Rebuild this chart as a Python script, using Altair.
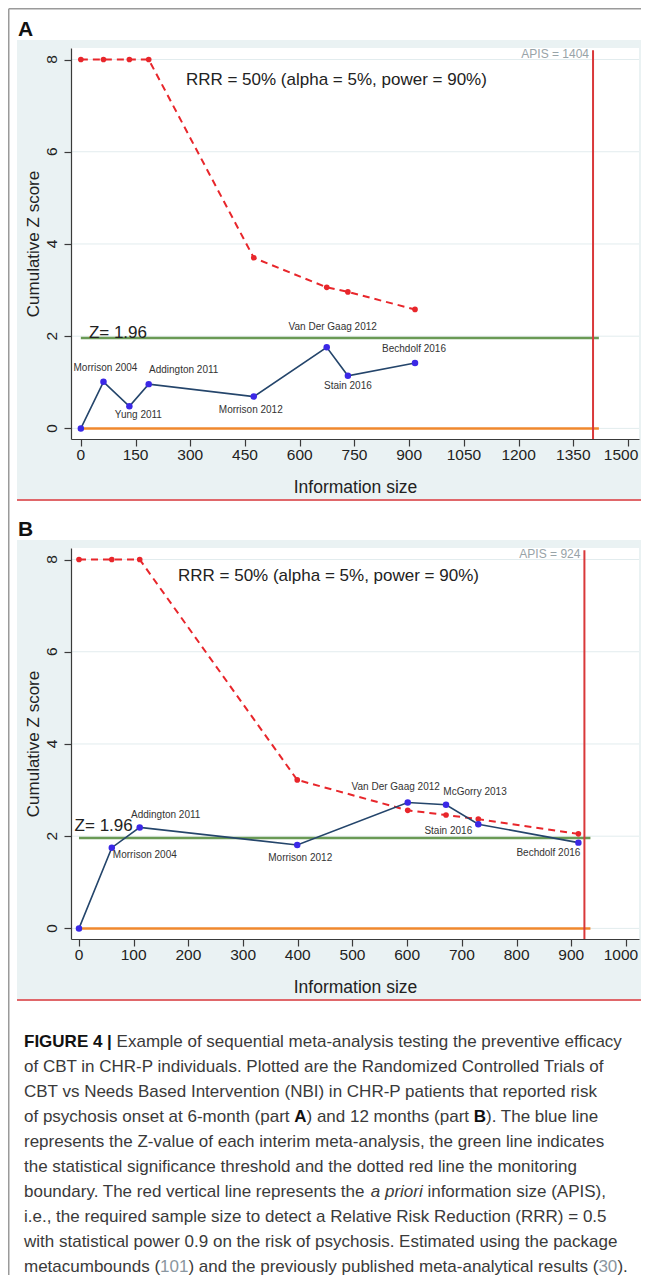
import altair as alt
import pandas as pd

FONT = "Liberation Sans, Arial, Helvetica, sans-serif"

# ---------------- data: panel A (6 months) ----------------
A_STUDY = ["Start", "Morrison 2004", "Yung 2011", "Addington 2011", "Morrison 2012",
           "Van Der Gaag 2012", "Stain 2016", "Bechdolf 2016"]
A_INFO = [0, 62, 133, 186, 474, 674, 732, 916]
A_Z = [0.0, 1.01, 0.48, 0.96, 0.69, 1.76, 1.14, 1.42]
A_BOUND_INFO = [0, 62, 133, 186, 474, 674, 732, 916]
A_BOUND_Z = [8.0, 8.0, 8.0, 8.0, 3.70, 3.06, 2.96, 2.58]
A_APIS = 1404
A_LINE_END = 1420
A_XTICKS = [0, 150, 300, 450, 600, 750, 900, 1050, 1200, 1350, 1500]

# ---------------- data: panel B (12 months) ----------------
B_STUDY = ["Start", "Morrison 2004", "Addington 2011", "Morrison 2012", "Van Der Gaag 2012",
           "McGorry 2013", "Stain 2016", "Bechdolf 2016"]
B_INFO = [0, 60, 111, 399, 601, 671, 730, 913]
B_Z = [0.0, 1.75, 2.19, 1.81, 2.73, 2.68, 2.26, 1.86]
B_BOUND_INFO = [0, 60, 111, 399, 601, 671, 730, 913]
B_BOUND_Z = [8.0, 8.0, 8.0, 3.22, 2.56, 2.46, 2.37, 2.05]
B_APIS = 924
B_LINE_END = 935
B_XTICKS = [0, 100, 200, 300, 400, 500, 600, 700, 800, 900, 1000]

Y_TICKS = [0, 2, 4, 6, 8]
Z_CRIT = 1.96

RRR_TEXT = "RRR = 50% (alpha = 5%, power = 90%)"
Z_TEXT = "Z= 1.96"

CAPTION = [
    [("b", "FIGURE 4 |"), ("r", " Example of sequential meta-analysis testing the preventive efficacy")],
    [("r", "of CBT in CHR-P individuals. Plotted are the Randomized Controlled Trials of")],
    [("r", "CBT vs Needs Based Intervention (NBI) in CHR-P patients that reported risk")],
    [("r", "of psychosis onset at 6-month (part "), ("b", "A"), ("r", ") and 12 months (part "),
     ("b", "B"), ("r", "). The blue line")],
    [("r", "represents the Z-value of each interim meta-analysis, the green line indicates")],
    [("r", "the statistical significance threshold and the dotted red line the monitoring")],
    [("r", "boundary. The red vertical line represents the "), ("i", "a priori"),
     ("r", " information size (APIS),")],
    [("r", "i.e., the required sample size to detect a Relative Risk Reduction (RRR) = 0.5")],
    [("r", "with statistical power 0.9 on the risk of psychosis. Estimated using the package")],
    [("r", "metacumbounds ("), ("c", "101"), ("r", ") and the previously published meta-analytical results ("),
     ("c", "30"), ("r", ").")],
]

# ---------------- styling ----------------
BG = "#EAF2F3"
GRID = "#E2ECEE"
AXC = "#3A3A3A"
TXT = "#222222"
RED = "#D9383A"
BRED = "#E8262B"
NAVY = "#24456B"
BLUE = "#3B28E6"
GREEN = "#6A9A55"
ORANGE = "#F0882E"
SEP = "#E0676A"
FRAME = "#9A9A9A"

CW, CH = 633, 1267          # whole figure area (page minus 8px margins)
PX0, PX1 = 63, 631          # plot region, horizontal
Y_DOMAIN = [-0.23, 8.25]
TICK_FS = 15.5

# Arial-compatible advance widths (per 1000 em) for caption layout
REG = {' ': 278, '!': 278, '(': 333, ')': 333, ',': 278, '-': 333, '.': 278, '=': 584, '|': 260,
       '0': 556, '1': 556, '2': 556, '3': 556, '4': 556, '5': 556, '6': 556, '7': 556, '8': 556, '9': 556,
       'A': 667, 'B': 667, 'C': 722, 'D': 722, 'E': 667, 'F': 611, 'G': 778, 'H': 722, 'I': 278, 'J': 500,
       'K': 667, 'L': 556, 'M': 833, 'N': 722, 'O': 778, 'P': 667, 'Q': 778, 'R': 722, 'S': 667, 'T': 611,
       'U': 722, 'V': 667, 'W': 944, 'X': 667, 'Y': 667, 'Z': 611,
       'a': 556, 'b': 556, 'c': 500, 'd': 556, 'e': 556, 'f': 278, 'g': 556, 'h': 556, 'i': 222, 'j': 222,
       'k': 500, 'l': 222, 'm': 833, 'n': 556, 'o': 556, 'p': 556, 'q': 556, 'r': 333, 's': 500, 't': 278,
       'u': 556, 'v': 500, 'w': 722, 'x': 500, 'y': 500, 'z': 500}
BOLD = dict(REG)
BOLD.update({'A': 722, 'B': 722, 'F': 611, 'G': 778, 'I': 278, 'U': 722, 'R': 722, 'E': 667, '|': 280})

CAP_SIZE = 17


def tw(text, style):
    table = BOLD if style == "b" else REG
    return sum(table.get(ch, 556) for ch in text) * CAP_SIZE / 1000.0


def dummy():
    return alt.Chart(pd.DataFrame({"k": [0]}))


def panel(letter, top, study, info, z, binfo, bz, apis, line_end, xticks, xdomain,
          offsets, ztxt, rrr, last_dx, first):
    ptop, pbot = top, top + 391
    xs = alt.Scale(domain=xdomain, range=[PX0, PX1], nice=False, zero=False)
    ys = alt.Scale(domain=Y_DOMAIN, range=[pbot, ptop], nice=False, zero=False)
    xaxis = alt.Axis(orient="bottom", offset=pbot - CH, values=xticks, labels=False,
                     title="Information size", grid=False, zindex=1,
                     domainColor=AXC, domainWidth=1.2, tickColor=AXC, tickWidth=1.2, tickSize=7,
                     titleFont=FONT, titleFontSize=17.5, titleFontWeight="normal", titleColor=TXT,
                     titleX=(PX0 + PX1) / 2, titleY=48, titleBaseline="middle", titleAlign="center")
    yaxis = alt.Axis(orient="left", offset=-PX0, values=Y_TICKS, labels=False,
                     title="Cumulative Z score", grid=False, zindex=1,
                     domainColor=AXC, domainWidth=1.2, tickColor=AXC, tickWidth=1.2, tickSize=7,
                     titleFont=FONT, titleFontSize=17, titleFontWeight="normal", titleColor=TXT,
                     titleX=-38, titleY=(ptop + pbot) / 2, titleAngle=270, titleBaseline="middle",
                     titleAlign="center")

    def X(f):
        return alt.X(f, type="quantitative", scale=xs, axis=xaxis)

    def Y(f):
        return alt.Y(f, type="quantitative", scale=ys, axis=yaxis)

    df = pd.DataFrame({"study": study, "x": info, "y": z})
    bdf = pd.DataFrame({"x": binfo, "y": bz})
    xt = pd.DataFrame({"x": xticks})

    layers = []
    # graph region background and white plot region
    layers.append(dummy().mark_rect(color=BG).encode(
        x=alt.value(9), x2=alt.value(CW), y=alt.value(ptop - 8), y2=alt.value(ptop + 451)))
    layers.append(dummy().mark_rect(color="white").encode(
        x=alt.value(PX0), x2=alt.value(PX1), y=alt.value(ptop), y2=alt.value(pbot)))
    # gridlines
    layers.append(alt.Chart(pd.DataFrame({"y": Y_TICKS})).mark_rule(color=GRID, strokeWidth=1).encode(
        y=Y("y"), x=alt.value(PX0), x2=alt.value(PX1)))
    # rotated y tick labels (Stata style)
    layers.append(alt.Chart(pd.DataFrame({"y": Y_TICKS})).mark_text(
        angle=270, fontSize=TICK_FS, font=FONT, color=TXT, align="center", baseline="middle").encode(
        y=Y("y"), x=alt.value(PX0 - 19), text=alt.Text("y:Q", format="d")))
    # x tick labels (last one nudged inside the figure edge)
    last = xticks[-1]
    layers.append(alt.Chart(xt).transform_filter(alt.datum.x < last).mark_text(
        fontSize=TICK_FS, font=FONT, color=TXT, align="center", baseline="middle").encode(
        x=X("x"), y=alt.value(pbot + 16), text=alt.Text("x:Q", format="d")))
    layers.append(alt.Chart(xt).transform_filter(alt.datum.x == last).mark_text(
        fontSize=TICK_FS, font=FONT, color=TXT, align="center", baseline="middle", dx=last_dx).encode(
        x=X("x"), y=alt.value(pbot + 16), text=alt.Text("x:Q", format="d")))
    # threshold lines
    layers.append(alt.Chart(pd.DataFrame({"x": [0], "x2": [line_end], "y": [0.0]}))
                  .mark_rule(color=ORANGE, strokeWidth=2.5).encode(x=X("x"), x2="x2", y=Y("y")))
    layers.append(alt.Chart(pd.DataFrame({"x": [0], "x2": [line_end], "y": [Z_CRIT]}))
                  .mark_rule(color=GREEN, strokeWidth=2.5).encode(x=X("x"), x2="x2", y=Y("y")))
    # APIS vertical line
    layers.append(alt.Chart(pd.DataFrame({"x": [apis], "y": [8.2]}))
                  .mark_rule(color=RED, strokeWidth=2).encode(x=X("x"), y=Y("y"), y2=alt.value(pbot)))
    # monitoring boundary
    layers.append(alt.Chart(bdf).mark_line(color=BRED, strokeWidth=2, strokeDash=[7, 5]).encode(
        x=X("x"), y=Y("y")))
    layers.append(alt.Chart(bdf).mark_circle(color=BRED, size=32, opacity=1).encode(
        x=X("x"), y=Y("y")))
    # cumulative Z
    layers.append(alt.Chart(df).mark_line(color=NAVY, strokeWidth=1.6).encode(x=X("x"), y=Y("y")))
    layers.append(alt.Chart(df).mark_circle(color=BLUE, size=42, opacity=1).encode(x=X("x"), y=Y("y")))
    # study labels
    for name, (dx, dy) in offsets.items():
        layers.append(alt.Chart(df).transform_filter(alt.datum.study == name).mark_text(
            dx=dx, dy=dy, fontSize=10, font=FONT, color="#333333", align="center", baseline="middle"
        ).encode(x=X("x"), y=Y("y"), text="study:N"))
    # annotations
    layers.append(alt.Chart(pd.DataFrame({"x": [ztxt[0]], "y": [ztxt[1]], "t": [Z_TEXT]})).mark_text(
        fontSize=17, font=FONT, color=TXT, align="left", baseline="middle").encode(
        x=X("x"), y=Y("y"), text="t:N"))
    layers.append(alt.Chart(pd.DataFrame({"x": [rrr[0]], "y": [rrr[1]], "t": [RRR_TEXT]})).mark_text(
        fontSize=17, font=FONT, color=TXT, align="left", baseline="middle").encode(
        x=X("x"), y=Y("y"), text="t:N"))
    layers.append(alt.Chart(pd.DataFrame({"x": [apis], "y": [8.13], "t": ["APIS = %d" % apis]})).mark_text(
        fontSize=12, font=FONT, color="#98A3A8", align="right", baseline="middle", dx=-4).encode(
        x=X("x"), y=Y("y"), text="t:N"))
    # panel letter and separator
    layers.append(dummy().mark_text(text=letter, fontSize=21, fontWeight="bold", font=FONT, color="#111111",
                                    align="left", baseline="middle").encode(
        x=alt.value(10), y=alt.value(ptop - 18.5)))
    layers.append(dummy().mark_rule(color=SEP, strokeWidth=2).encode(
        x=alt.value(9), x2=alt.value(CW), y=alt.value(ptop + 452)))

    if first:
        layers.append(dummy().mark_rule(color=FRAME, strokeWidth=1.5).encode(
            x=alt.value(0.75), x2=alt.value(CW), y=alt.value(0.75)))
        layers.append(dummy().mark_rule(color=FRAME, strokeWidth=1.5).encode(
            x=alt.value(0.75), y=alt.value(0.75), y2=alt.value(CH)))
    else:
        x0 = 16
        y0 = 1033.5
        for i, line in enumerate(CAPTION):
            cursor = 0.0
            for style, seg in line:
                lead = len(seg) - len(seg.lstrip())
                px = x0 + cursor + tw(seg[:lead], style)
                cursor += tw(seg, style)
                color = {"b": "#111111", "c": "#8A96A0"}.get(style, "#3A3A3A")
                kw = dict(fontSize=CAP_SIZE, font=FONT, color=color, align="left", baseline="middle",
                          text=seg.strip())
                if style == "b":
                    kw["fontWeight"] = "bold"
                if style == "i":
                    kw["fontStyle"] = "italic"
                layers.append(dummy().mark_text(**kw).encode(
                    x=alt.value(round(px, 1)), y=alt.value(round(y0 + i * 25.1, 1))))

    return alt.layer(*layers)


A_OFFSETS = {"Morrison 2004": (2, -14), "Yung 2011": (9, 9), "Addington 2011": (35, -14),
             "Morrison 2012": (-3, 13), "Van Der Gaag 2012": (6, -20), "Stain 2016": (0, 10),
             "Bechdolf 2016": (-1, -14)}
B_OFFSETS = {"Morrison 2004": (33, 7), "Addington 2011": (26, -12), "Morrison 2012": (3, 13),
             "Van Der Gaag 2012": (-12, -16), "McGorry 2013": (29, -13), "Stain 2016": (-30, 7),
             "Bechdolf 2016": (-30, 10)}

pA = panel("A", 40, A_STUDY, A_INFO, A_Z, A_BOUND_INFO, A_BOUND_Z, A_APIS, A_LINE_END, A_XTICKS,
           [-27, 1530], A_OFFSETS, (22, 2.07), (288, 7.56), -7, True)
pB = panel("B", 540, B_STUDY, B_INFO, B_Z, B_BOUND_INFO, B_BOUND_Z, B_APIS, B_LINE_END, B_XTICKS,
           [-14.6, 1023.8], B_OFFSETS, (-8, 2.22), (181, 7.64), -5, False)

chart = (alt.layer(pA, pB)
         .resolve_scale(x="independent", y="independent")
         .resolve_axis(x="independent", y="independent")
         .properties(width=CW, height=CH, padding=0, autosize=alt.AutoSizeParams(type="none"))
         .configure_view(strokeWidth=0))

chart.save("out.html", embed_options={"renderer": "svg", "actions": False})
